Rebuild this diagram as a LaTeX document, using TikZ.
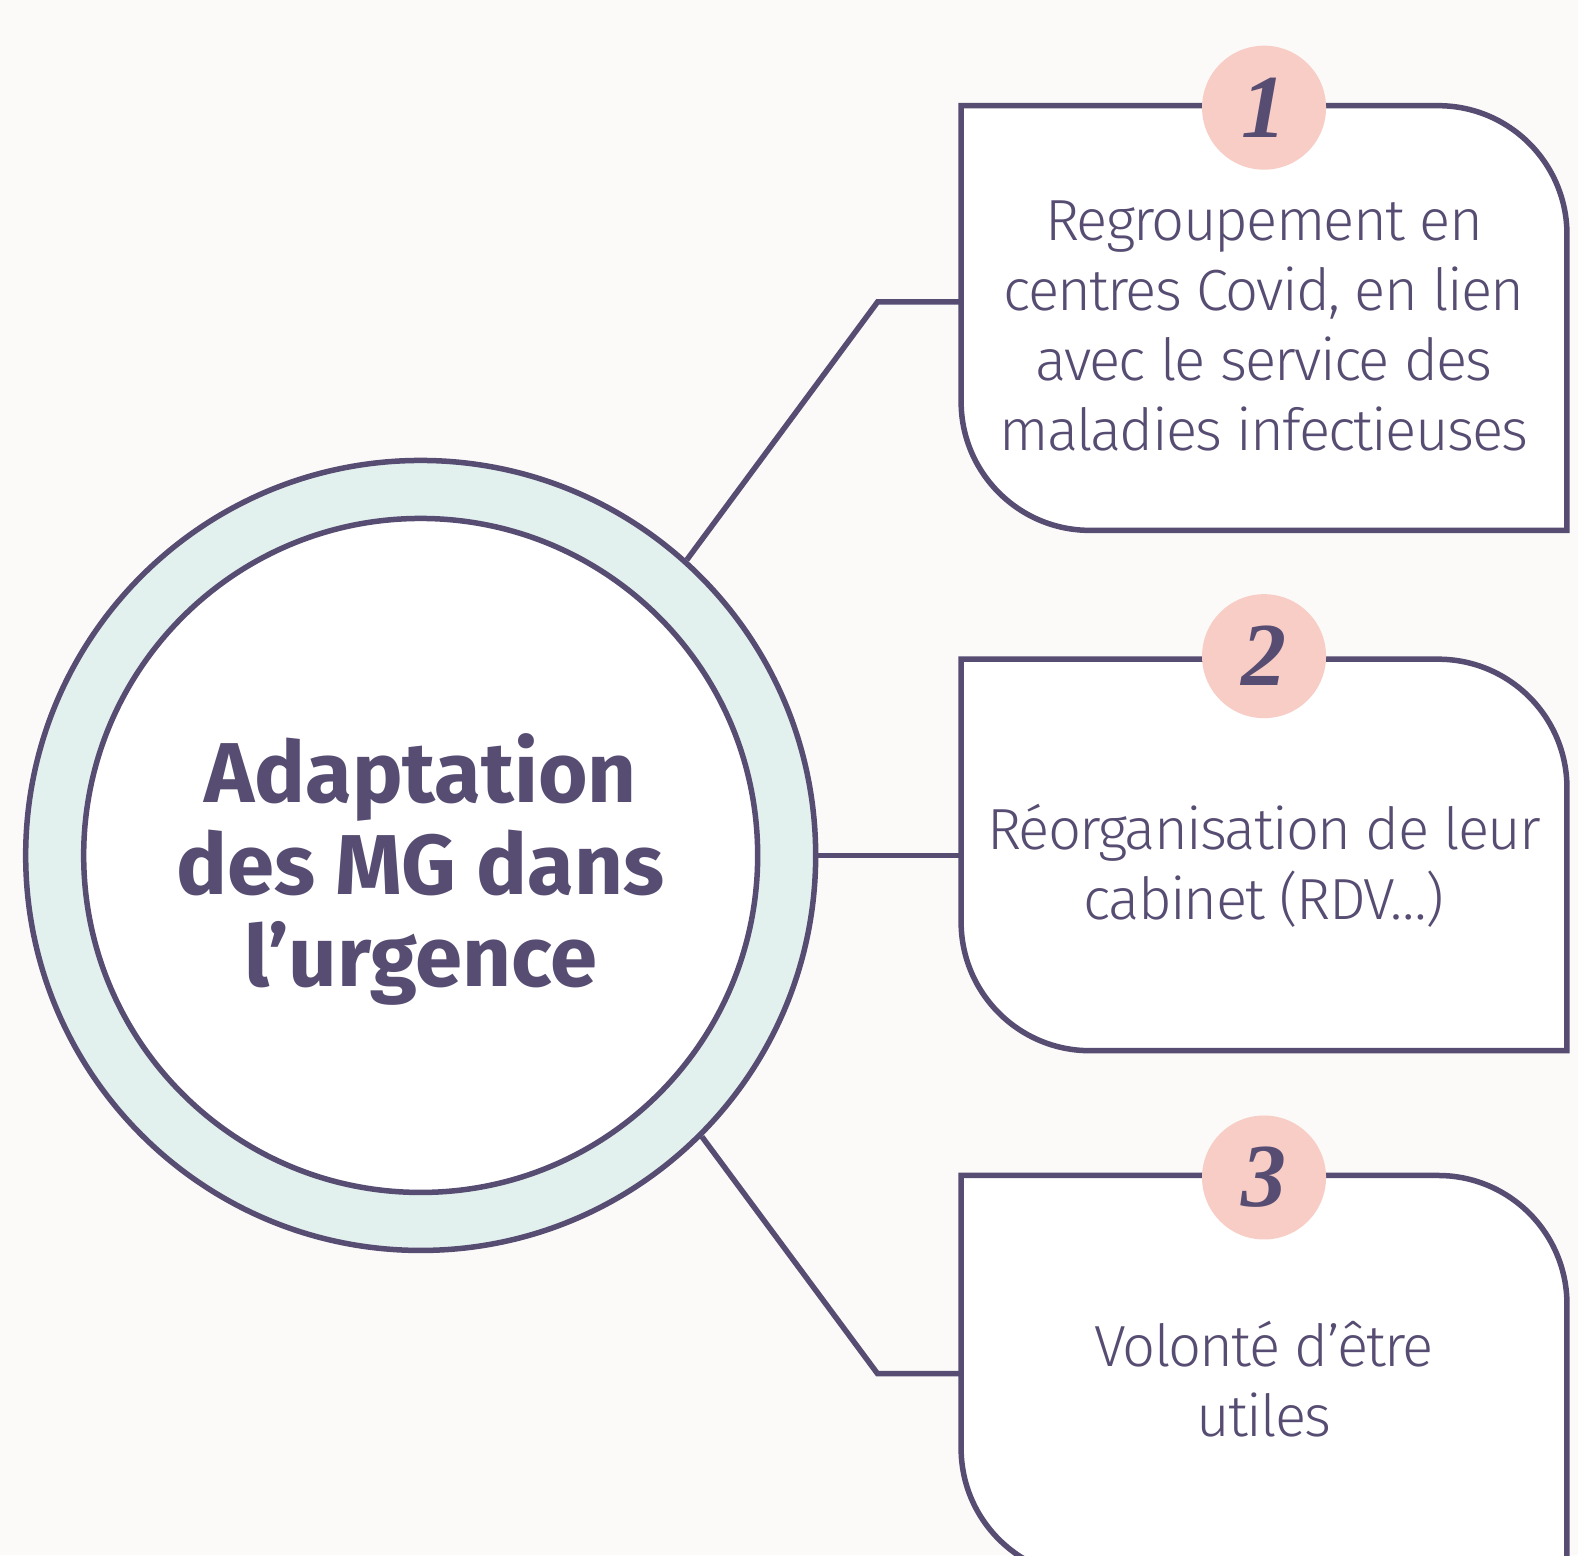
\documentclass[tikz,border=0pt]{standalone}
\usepackage{fontspec}
\setmainfont{Fira Sans}
\newfontfamily\lightfont[LetterSpace=-3]{Fira Sans Light}
\newfontfamily\boldfont{Fira Sans Bold}
\newfontfamily\numfont{Liberation Serif}
\definecolor{ink}{HTML}{574C72}
\definecolor{bg}{HTML}{FBFAF8}
\definecolor{mint}{HTML}{E3F1EE}
\definecolor{pinkbadge}{HTML}{F7CDC6}
\tikzset{
  stroke/.style={draw=ink, line width=5.5pt},
  ring/.style={circle, stroke, fill=mint, minimum size=790pt, inner sep=0pt},
  core/.style={circle, stroke, fill=white, minimum size=674pt, inner sep=0pt},
  title/.style={text=ink, align=center, font=\boldfont\fontsize{85}{92}\selectfont},
  badge/.style={circle, fill=pinkbadge, minimum size=124pt, inner sep=0pt, text=ink,
    font=\numfont\bfseries\itshape\fontsize{90}{90}\selectfont},
  boxtext/.style={align=center, text=ink, font=\lightfont\fontsize{58}{70}\selectfont},
  link/.style={draw=ink, line width=5.5pt, line join=miter}
}
\newcommand{\cardpath}[5]{% left top right bottom radius
  \path[stroke, fill=white, line join=miter] (#1,#2) -- ({#3-#5},#2)
    .. controls ({#3-#5+0.5523*#5},#2) and (#3,{#2+#5-0.5523*#5}) .. (#3,{#2+#5})
    -- (#3,#4) -- ({#1+#5},#4)
    .. controls ({#1+#5-0.5523*#5},#4) and (#1,{#4-#5+0.5523*#5}) .. (#1,{#4-#5})
    -- cycle;}
\begin{document}
\begin{tikzpicture}[x=1.0064pt,y=-1.0064pt]
\useasboundingbox (0pt,0pt) rectangle (1578pt,-1555pt);
\clip (0pt,0pt) rectangle (1578pt,-1555pt);
\fill[bg] (0pt,0pt) rectangle (1578pt,-1555pt);
% connectors
\node[ring] (outer) at (418,850) {};
\coordinate (e1) at (872,300);
\coordinate (b1w) at (955,300);
\coordinate (b2w) at (955,850);
\coordinate (e3) at (872,1365);
\coordinate (b3w) at (955,1365);
\draw[link] (outer.48) -- (e1) -- (b1w);
\draw[link] (outer.east) -- (b2w);
\draw[link] (outer.-45) -- (e3) -- (b3w);
\node[core] (core) at (418,850) {};
\node[title] (ttl) at (418,864) {Adaptation\\des MG dans\\l’urgence};
% cards
\cardpath{955}{105}{1557}{527}{128}
\cardpath{955}{655}{1557}{1044}{128}
\cardpath{955}{1168}{1557}{1567}{128}
\node[badge] (n1) at (1256,107) {1};
\node[badge] (n2) at (1256,652) {2};
\node[badge] (n3) at (1256,1170) {3};
\node[boxtext] (t1) at (1256,324) {Regroupement en\\centres Covid, en lien\\avec le service des\\maladies infectieuses};
\node[boxtext] (t2) at (1256,860) {Réorganisation de leur\\cabinet (RDV…)};
\node[boxtext] (t3) at (1256,1370) {Volonté d’être\\utiles};
\end{tikzpicture}
\end{document}
